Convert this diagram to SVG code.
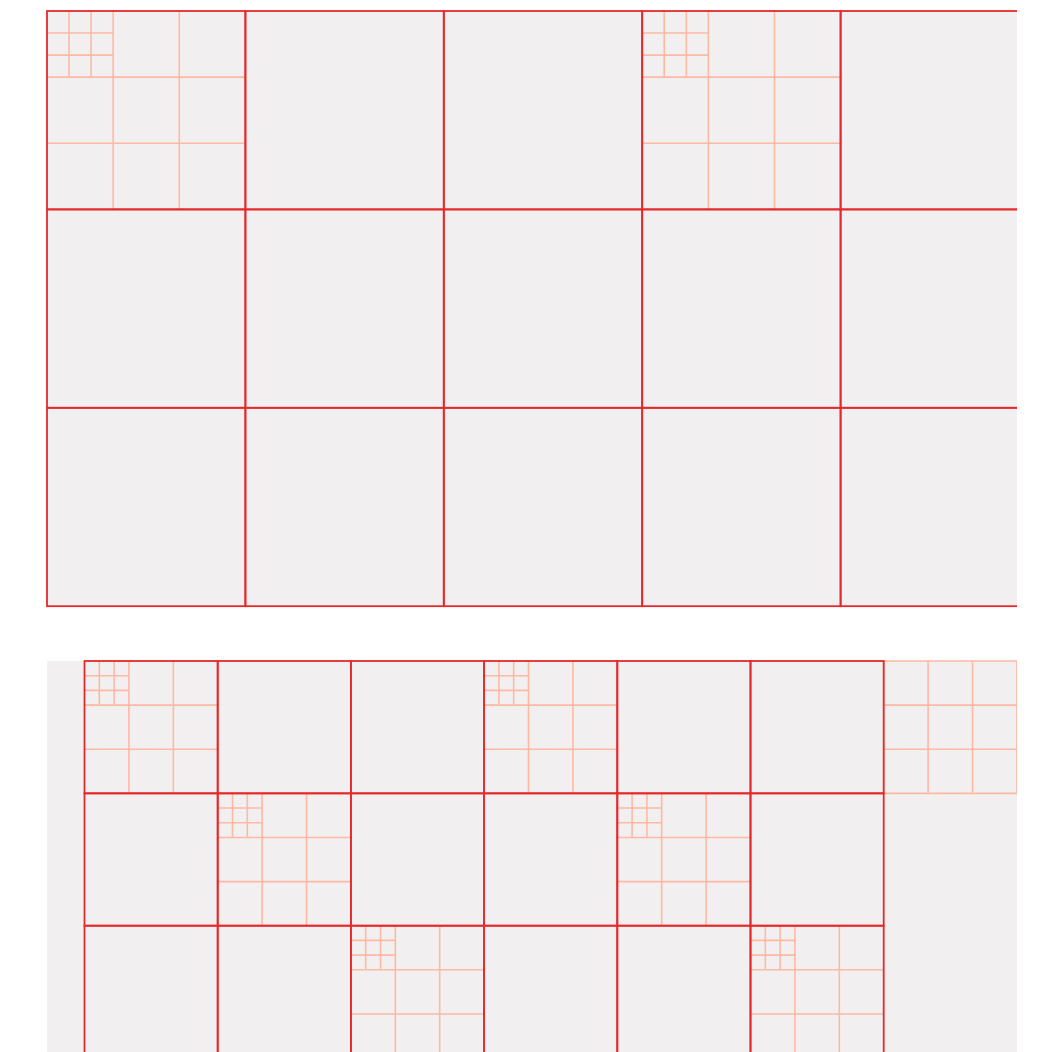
<svg xmlns="http://www.w3.org/2000/svg" xmlns:xlink="http://www.w3.org/1999/xlink" width="1040" height="1052" viewBox="0 0 1040 1052">
<style>
.bg{fill:#f2eff0}
.lt{stroke:#ffb9a2;stroke-width:1.6;fill:none}
.rd{stroke:#e5292b;stroke-width:1.8;fill:none}
</style>
<defs>
<clipPath id="clipTop"><rect x="0" y="0" width="1017" height="1052"/></clipPath>
<clipPath id="clipBot"><rect x="0" y="600" width="1017" height="452"/></clipPath>
<g id="subA">
<path class="lt" d="M66.13 0V198.4M132.27 0V198.4M0 66.13H198.4M0 132.27H198.4M22.04 0V66.13M44.09 0V66.13M0 22.04H66.13M0 44.09H66.13"/>
</g>
<g id="subB">
<path class="lt" d="M44.4 0V132.35M88.8 0V132.35M0 44.12H133.2M0 88.23H133.2M14.8 0V44.12M29.6 0V44.12M0 14.71H44.4M0 29.41H44.4"/>
</g>
</defs>
<g id="top-panel" clip-path="url(#clipTop)">
<rect class="bg" x="47" y="11" width="970" height="595.2"/>
<g id="top-sub">
<use xlink:href="#subA" x="47" y="11"/>
<use xlink:href="#subA" x="642.2" y="11"/>
</g>
<g id="top-cells">
<rect class="rd" x="47" y="11" width="198.4" height="198.4"/>
<rect class="rd" x="245.4" y="11" width="198.4" height="198.4"/>
<rect class="rd" x="443.8" y="11" width="198.4" height="198.4"/>
<rect class="rd" x="642.2" y="11" width="198.4" height="198.4"/>
<rect class="rd" x="840.6" y="11" width="198.4" height="198.4"/>
<rect class="rd" x="47" y="209.4" width="198.4" height="198.4"/>
<rect class="rd" x="245.4" y="209.4" width="198.4" height="198.4"/>
<rect class="rd" x="443.8" y="209.4" width="198.4" height="198.4"/>
<rect class="rd" x="642.2" y="209.4" width="198.4" height="198.4"/>
<rect class="rd" x="840.6" y="209.4" width="198.4" height="198.4"/>
<rect class="rd" x="47" y="407.8" width="198.4" height="198.4"/>
<rect class="rd" x="245.4" y="407.8" width="198.4" height="198.4"/>
<rect class="rd" x="443.8" y="407.8" width="198.4" height="198.4"/>
<rect class="rd" x="642.2" y="407.8" width="198.4" height="198.4"/>
<rect class="rd" x="840.6" y="407.8" width="198.4" height="198.4"/>
</g>
</g>
<g id="bottom-panel" clip-path="url(#clipBot)">
<rect class="bg" x="47" y="661" width="970" height="391"/>
<g id="bottom-sub">
<use xlink:href="#subB" x="84.5" y="661"/>
<use xlink:href="#subB" x="484.1" y="661"/>
<use xlink:href="#subB" x="217.7" y="793.35"/>
<use xlink:href="#subB" x="617.3" y="793.35"/>
<use xlink:href="#subB" x="350.9" y="925.7"/>
<use xlink:href="#subB" x="750.5" y="925.7"/>
<path class="lt" d="M883.7 661H1016.9V793.35H883.7ZM928.1 661V793.35M972.5 661V793.35M883.7 705.12H1016.9M883.7 749.23H1016.9"/>
</g>
<g id="bottom-cells">
<rect class="rd" x="84.5" y="661" width="133.2" height="132.35"/>
<rect class="rd" x="217.7" y="661" width="133.2" height="132.35"/>
<rect class="rd" x="350.9" y="661" width="133.2" height="132.35"/>
<rect class="rd" x="484.1" y="661" width="133.2" height="132.35"/>
<rect class="rd" x="617.3" y="661" width="133.2" height="132.35"/>
<rect class="rd" x="750.5" y="661" width="133.2" height="132.35"/>
<rect class="rd" x="84.5" y="793.35" width="133.2" height="132.35"/>
<rect class="rd" x="217.7" y="793.35" width="133.2" height="132.35"/>
<rect class="rd" x="350.9" y="793.35" width="133.2" height="132.35"/>
<rect class="rd" x="484.1" y="793.35" width="133.2" height="132.35"/>
<rect class="rd" x="617.3" y="793.35" width="133.2" height="132.35"/>
<rect class="rd" x="750.5" y="793.35" width="133.2" height="132.35"/>
<rect class="rd" x="84.5" y="925.7" width="133.2" height="132.35"/>
<rect class="rd" x="217.7" y="925.7" width="133.2" height="132.35"/>
<rect class="rd" x="350.9" y="925.7" width="133.2" height="132.35"/>
<rect class="rd" x="484.1" y="925.7" width="133.2" height="132.35"/>
<rect class="rd" x="617.3" y="925.7" width="133.2" height="132.35"/>
<rect class="rd" x="750.5" y="925.7" width="133.2" height="132.35"/>
</g>
</g>
</svg>
